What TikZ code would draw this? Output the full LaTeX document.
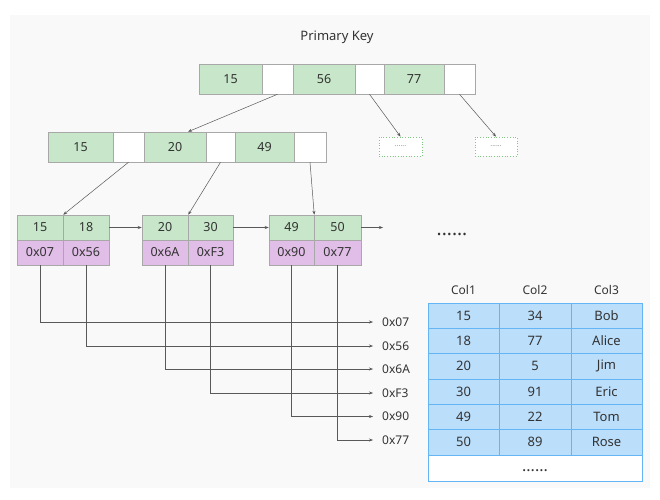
\documentclass[tikz,border=0pt]{standalone}
\usepackage{fontspec}
\setmainfont{Noto Sans}
\usetikzlibrary{arrows.meta,calc}
\definecolor{panelbg}{HTML}{F9F9F9}
\definecolor{keygreen}{HTML}{C8E6C9}
\definecolor{ptrpink}{HTML}{E1BEE7}
\definecolor{rowblue}{HTML}{BBDEFB}
\definecolor{rowline}{HTML}{64B5F6}
\definecolor{txt}{HTML}{333333}
\definecolor{cellline}{HTML}{A8A8A8}
\definecolor{dotgreen}{HTML}{81C784}
\tikzset{
  cellbox/.style={draw=cellline, line width=0.5pt, minimum height=30pt, inner sep=0pt, text=txt, font=\fontsize{12.5}{14}\selectfont},
  keycell/.style={cellbox, fill=keygreen},
  ptrcell/.style={cellbox, fill=white},
  leafkey/.style={cellbox, fill=keygreen, minimum width=46pt, minimum height=25pt},
  leafptr/.style={cellbox, fill=ptrpink, minimum width=46pt, minimum height=25pt},
  dotbox/.style={draw=dotgreen, dotted, line width=0.7pt, fill=white, minimum width=43pt, minimum height=19pt, inner sep=0pt, text=gray, font=\fontsize{7}{8}\bfseries},
  conn/.style={draw=black!65, line width=0.5pt, -{Stealth[length=4pt,width=3pt]}},
  ptrlabel/.style={anchor=west, inner sep=0pt, text=txt, font=\fontsize{12}{14}\selectfont},
  tcell/.style={draw=rowline, line width=0.7pt, fill=rowblue, minimum height=25.33pt, inner sep=0pt, text=txt, font=\fontsize{13}{15}\selectfont},
  thead/.style={text=txt, font=\fontsize{12}{14}\selectfont}
}
\begin{document}
\begin{tikzpicture}[x=1pt,y=-1pt]
\useasboundingbox (0,0) rectangle (660,499);
\fill[panelbg] (10,15) rectangle (650,488);

\node[text=txt, font=\fontsize{13}{15}\selectfont] (title) at (337,37) {Primary Key};

% root
\node[keycell, minimum width=63pt] (r1) at (230.5,79) {15};
\node[ptrcell, minimum width=31pt] (r1p) at (277.5,79) {};
\node[keycell, minimum width=62pt] (r2) at (324,79) {56};
\node[ptrcell, minimum width=29pt] (r2p) at (369.5,79) {};
\node[keycell, minimum width=60pt] (r3) at (414,79) {77};
\node[ptrcell, minimum width=31pt] (r3p) at (459.5,79) {};

% level 2
\node[keycell, minimum width=65pt] (m1) at (80.5,147) {15};
\node[ptrcell, minimum width=31pt] (m1p) at (128.5,147) {};
\node[keycell, minimum width=62pt] (m2) at (175,147) {20};
\node[ptrcell, minimum width=29pt] (m2p) at (220.5,147) {};
\node[keycell, minimum width=59pt] (m3) at (264.5,147) {49};
\node[ptrcell, minimum width=32pt] (m3p) at (310,147) {};

\node[dotbox] (d1) at (400.5,146.5) {......};
\node[dotbox, minimum width=42pt] (d2) at (496,146.5) {......};

% leaves
\node[leafkey] (a1) at (40,227.5) {15};
\node[leafkey] (a2) at (86,227.5) {18};
\node[leafptr] (a3) at (40,252.5) {0x07};
\node[leafptr] (a4) at (86,252.5) {0x56};

\node[leafkey] (b1) at (165,227.5) {20};
\node[leafkey, minimum width=45pt] (b2) at (210.5,227.5) {30};
\node[leafptr] (b3) at (165,252.5) {0x6A};
\node[leafptr, minimum width=45pt] (b4) at (210.5,252.5) {0xF3};

\node[leafkey, minimum width=45pt] (c1) at (291.5,227.5) {49};
\node[leafkey, minimum width=47pt] (c2) at (337.5,227.5) {50};
\node[leafptr, minimum width=45pt] (c3) at (291.5,252.5) {0x90};
\node[leafptr, minimum width=47pt] (c4) at (337.5,252.5) {0x77};

\coordinate (cend) at (383,227.5);
\node[text=txt, font=\fontsize{19}{19}\bfseries] (more) at (452,234.5) {......};

% tree connectors
\draw[conn] (r1p.south) -- ([xshift=13pt]m2.north);
\draw[conn] (r2p.south) -- (d1.north);
\draw[conn] (r3p.south) -- (d2.north);
\draw[conn] (m1p.south) -- (a1.north east);
\draw[conn] (m2p.south) -- (b1.north east);
\draw[conn] (m3p.south) -- (c1.north east);
\draw[conn] (a2.east) -- (b1.west);
\draw[conn] (b2.east) -- (c1.west);
\draw[conn] (c2.east) -- (cend);

% pointer labels
\node[ptrlabel] (l1) at (382,322) {0x07};
\node[ptrlabel] (l2) at (382,346) {0x56};
\node[ptrlabel] (l3) at (382,369) {0x6A};
\node[ptrlabel] (l4) at (382,393) {0xF3};
\node[ptrlabel] (l5) at (382,416.5) {0x90};
\node[ptrlabel] (l6) at (382,440) {0x77};

\draw[conn] (a3.south) |- ([xshift=-9pt]l1.west);
\draw[conn] (a4.south) |- ([xshift=-9pt]l2.west);
\draw[conn] (b3.south) |- ([xshift=-9pt]l3.west);
\draw[conn] (b4.south) |- ([xshift=-9pt]l4.west);
\draw[conn] (c3.south) |- ([xshift=-9pt]l5.west);
\draw[conn] (c4.south) |- ([xshift=-9pt]l6.west);

% table
\node[thead] (h1) at (463.5,290) {Col1};
\node[thead] (h2) at (535,290) {Col2};
\node[thead] (h3) at (606.5,290) {Col3};

\node[tcell, minimum width=71pt] (t11) at (463.5,315.67) {15};
\node[tcell, minimum width=72pt] (t12) at (535,315.67) {34};
\node[tcell, minimum width=71pt] (t13) at (606.5,315.67) {Bob};
\node[tcell, minimum width=71pt] (t21) at (463.5,341) {18};
\node[tcell, minimum width=72pt] (t22) at (535,341) {77};
\node[tcell, minimum width=71pt] (t23) at (606.5,341) {Alice};
\node[tcell, minimum width=71pt] (t31) at (463.5,366.33) {20};
\node[tcell, minimum width=72pt] (t32) at (535,366.33) {5};
\node[tcell, minimum width=71pt] (t33) at (606.5,366.33) {Jim};
\node[tcell, minimum width=71pt] (t41) at (463.5,391.67) {30};
\node[tcell, minimum width=72pt] (t42) at (535,391.67) {91};
\node[tcell, minimum width=71pt] (t43) at (606.5,391.67) {Eric};
\node[tcell, minimum width=71pt] (t51) at (463.5,417) {49};
\node[tcell, minimum width=72pt] (t52) at (535,417) {22};
\node[tcell, minimum width=71pt] (t53) at (606.5,417) {Tom};
\node[tcell, minimum width=71pt] (t61) at (463.5,442.33) {50};
\node[tcell, minimum width=72pt] (t62) at (535,442.33) {89};
\node[tcell, minimum width=71pt] (t63) at (606.5,442.33) {Rose};
\node[draw=rowline, line width=0.7pt, fill=white, minimum width=214pt, minimum height=26pt, inner sep=0pt, text height=8pt, text depth=2pt, text=txt, font=\fontsize{16}{16}\bfseries] (tmore) at (535,468) {......};
\end{tikzpicture}
\end{document}
